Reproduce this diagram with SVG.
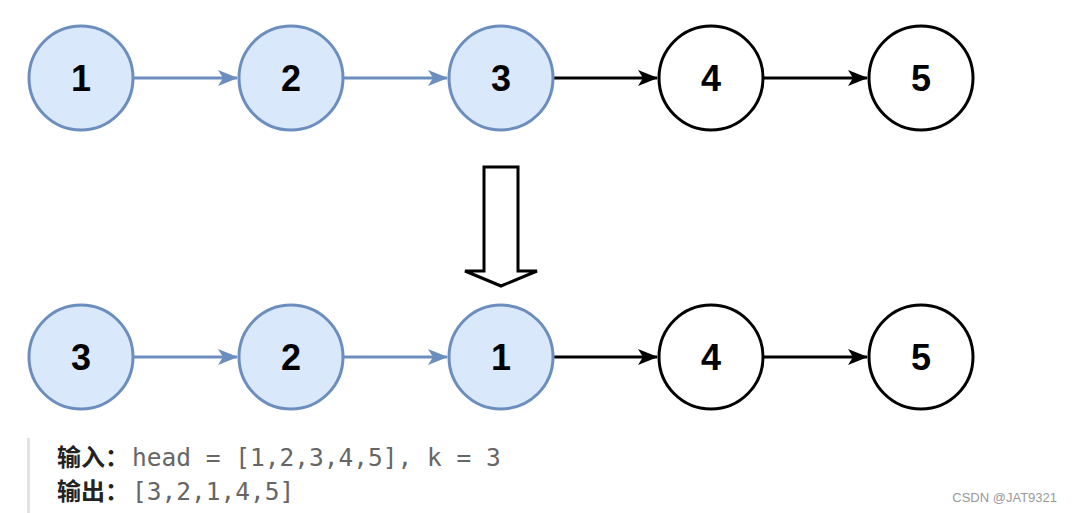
<svg xmlns="http://www.w3.org/2000/svg" width="1075" height="513" viewBox="0 0 1075 513">
<defs>
<style>
.nb{fill:#dae8fc;stroke:#6c8ebf;stroke-width:3}
.nw{fill:#ffffff;stroke:#000000;stroke-width:3}
.lbl{font-family:"Liberation Sans",Arial,sans-serif;font-weight:bold;font-size:36px;fill:#000;text-anchor:middle}
.eb{stroke:#6c8ebf;stroke-width:3;fill:none}
.ek{stroke:#000;stroke-width:3;fill:none}
.cjk{font-family:"Noto Sans CJK SC",sans-serif;font-weight:bold;font-size:24px;fill:#222}
.mono{font-family:"DejaVu Sans Mono","Liberation Mono",monospace;font-size:24.5px;fill:#666}
</style>
<marker id="ab" viewBox="0 0 20 16" refX="19" refY="8" markerWidth="20" markerHeight="16" markerUnits="userSpaceOnUse" orient="auto"><path d="M0,0 L20,8 L0,16 L5,8 Z" fill="#6c8ebf"/></marker>
<marker id="ak" viewBox="0 0 20 16" refX="19" refY="8" markerWidth="20" markerHeight="16" markerUnits="userSpaceOnUse" orient="auto"><path d="M0,0 L20,8 L0,16 L5,8 Z" fill="#000"/></marker>
</defs>
<rect width="1075" height="513" fill="#fff"/>
<g id="connectors">
<line class="eb" x1="134" y1="78" x2="237" y2="78" marker-end="url(#ab)"/>
<line class="eb" x1="344" y1="78" x2="447" y2="78" marker-end="url(#ab)"/>
<line class="ek" x1="554" y1="78" x2="657" y2="78" marker-end="url(#ak)"/>
<line class="ek" x1="764" y1="78" x2="867" y2="78" marker-end="url(#ak)"/>
<line class="eb" x1="134" y1="357" x2="237" y2="357" marker-end="url(#ab)"/>
<line class="eb" x1="344" y1="357" x2="447" y2="357" marker-end="url(#ab)"/>
<line class="ek" x1="554" y1="357" x2="657" y2="357" marker-end="url(#ak)"/>
<line class="ek" x1="764" y1="357" x2="867" y2="357" marker-end="url(#ak)"/>
</g>
<g id="t1"><circle class="nb" cx="81" cy="78" r="52"/><text class="lbl" x="81" y="91">1</text></g>
<g id="t2"><circle class="nb" cx="291" cy="78" r="52"/><text class="lbl" x="291" y="91">2</text></g>
<g id="t3"><circle class="nb" cx="501" cy="78" r="52"/><text class="lbl" x="501" y="91">3</text></g>
<g id="t4"><circle class="nw" cx="711" cy="78" r="52"/><text class="lbl" x="711" y="91">4</text></g>
<g id="t5"><circle class="nw" cx="921" cy="78" r="52"/><text class="lbl" x="921" y="91">5</text></g>
<g id="bigArrow"><path d="M484,167 L518,167 L518,271 L537,271 L501,286 L465,271 L484,271 Z" fill="#fff" stroke="#000" stroke-width="3" stroke-linejoin="miter"/></g>
<g id="b1"><circle class="nb" cx="81" cy="357" r="52"/><text class="lbl" x="81" y="370">3</text></g>
<g id="b2"><circle class="nb" cx="291" cy="357" r="52"/><text class="lbl" x="291" y="370">2</text></g>
<g id="b3"><circle class="nb" cx="501" cy="357" r="52"/><text class="lbl" x="501" y="370">1</text></g>
<g id="b4"><circle class="nw" cx="711" cy="357" r="52"/><text class="lbl" x="711" y="370">4</text></g>
<g id="b5"><circle class="nw" cx="921" cy="357" r="52"/><text class="lbl" x="921" y="370">5</text></g>
<g id="example">
<rect x="27" y="438" width="3" height="75" fill="#e3e3e3"/>
<text class="cjk" x="57" y="466">输入：</text>
<text class="mono" x="132" y="466">head = [1,2,3,4,5], k = 3</text>
<text class="cjk" x="57" y="500">输出：</text>
<text class="mono" x="132" y="500">[3,2,1,4,5]</text>
</g>
<text x="1057" y="502" font-family="Liberation Sans,Arial,sans-serif" font-size="13" fill="#999" text-anchor="end">CSDN @JAT9321</text>
</svg>
